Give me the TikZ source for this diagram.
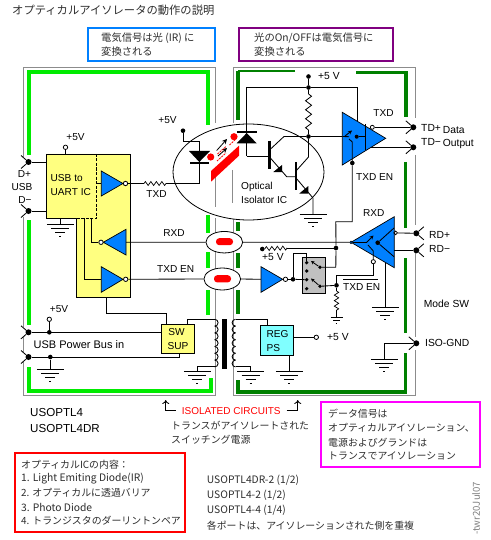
\documentclass[tikz,border=0pt]{standalone}
\usepackage{fontspec}
\setmainfont{Liberation Sans}
\newfontfamily\jp{Noto Sans CJK JP}
\usetikzlibrary{arrows.meta,decorations.pathmorphing,shapes.geometric}
\definecolor{lgreen}{RGB}{0,235,0}
\definecolor{dgreen}{RGB}{0,128,0}
\definecolor{gedge}{RGB}{140,140,140}
\definecolor{icblue}{RGB}{0,128,255}
\definecolor{icyellow}{RGB}{255,255,128}
\definecolor{regcyan}{RGB}{128,255,255}
\definecolor{swgrey}{RGB}{192,192,192}
\definecolor{jtext}{RGB}{45,45,45}
\definecolor{capblue}{RGB}{0,128,255}
\definecolor{cappurple}{RGB}{128,0,128}
\definecolor{capmag}{RGB}{255,0,255}
\tikzset{
 wire/.style={line width=0.85pt,black},
 edgeline/.style={line width=1pt,gedge},
 lg/.style={line width=3.4pt,lgreen},
 dg/.style={line width=3.4pt,dgreen},
 dgt/.style={line width=2.2pt,dgreen},
 amp/.style={draw=black,line width=0.7pt,fill=icblue},
 jdot/.style={circle,fill=black,inner sep=0pt,minimum size=4.6pt},
 term/.style={circle,fill=black,inner sep=0pt,minimum size=6pt},
 bub/.style={circle,draw=black,fill=white,line width=0.8pt,inner sep=0pt,minimum size=4.4pt},
 lab/.style={anchor=west,inner sep=0pt,font=\fontsize{10.3}{12}\selectfont},
 clab/.style={anchor=center,inner sep=0pt,font=\fontsize{10.1}{12}\selectfont},
 jlab/.style={anchor=west,inner sep=0pt,text=jtext,font=\jp\fontsize{9.9}{12}\selectfont},
 llab/.style={anchor=west,inner sep=0pt,text=jtext,font=\jp\fontsize{10.3}{12}\selectfont},
 capbox/.style={line width=2pt},
 resH/.style={line width=.7pt,decorate,decoration={zigzag,segment length=5.5pt,amplitude=2pt}},
 resV/.style={line width=.8pt,decorate,decoration={zigzag,segment length=9pt,amplitude=3pt}},
 oval/.style={ellipse,draw=black,fill=white,line width=0.8pt,inner sep=0pt},
 pill/.style={rounded corners=3.2pt,fill=red,draw=none},
 gnd/.pic={
  \draw[wire] (-13.5,0)--(13.5,0);
  \draw[wire] (-9,4.3)--(9,4.3);
  \draw[wire] (-5,8.6)--(5,8.6);
  \draw[wire] (-1,12.6)--(1,12.6);
 },
 sgnd/.pic={
  \draw[wire] (-6,0)--(6,0);
  \draw[wire] (-3.5,3.5)--(3.5,3.5);
  \draw[wire] (-.8,6.5)--(.8,6.5);
 }
}
\newcommand{\chevIn}[1]{\draw[wire] (#1) ++(-7.5,-6.5) -- (#1) -- ++(-7.5,6.5);}
\newcommand{\chevOut}[1]{\draw[wire] (#1) ++(7.5,-6.5) -- (#1) -- ++(7.5,6.5);}
\begin{document}
\begin{tikzpicture}[x=1pt,y=-1pt]
\useasboundingbox (0,0) rectangle (490,540);
\fill[white] (0,0) rectangle (490,540);
% title and captions
\node[jlab,font=\jp\fontsize{11.3}{13}\selectfont] (title) at (12,10) {オプティカルアイソレータの動作の説明};
\draw[capbox,draw=capblue] (88,28) rectangle (215,61.5);
\node[llab] (capa1) at (101,38) {電気信号は光 (IR) に};
\node[llab] (capa2) at (101,52) {変換される};
\draw[capbox,draw=cappurple] (239,28) rectangle (393,61.5);
\node[llab] (capb1) at (254,38) {光のOn/OFFは電気信号に};
\node[llab] (capb2) at (254,52) {変換される};
% grey isolation edges
\draw[edgeline] (23.5,157)--(23.5,67.5)--(215,67.5)--(215,123);
\draw[edgeline] (23.5,217)--(23.5,327) (23.5,337)--(23.5,352) (23.5,362)--(23.5,395)--(215,395)--(215,218);
\draw[edgeline] (233,123)--(233,67.5)--(415,67.5)--(415,118);
\draw[edgeline] (415,155)--(415,225) (415,253)--(415,337) (415,350)--(415,395)--(233,395)--(233,218);
% green guards
\draw[lg] (29,155)--(29,72)--(208,72)--(208,125);
\draw[lg] (29,220)--(29,325);
\draw[lg] (29,367)--(29,391)--(211,391)--(211,378);
\draw[lg] (208,215)--(208,233) (208,252)--(208,268) (208,290)--(208,315);
\draw[dgt] (295,71)--(238,71);
\draw[dg] (238,71)--(238,120);
\draw[dg] (356,72.5)--(406,72.5)--(406,117);
\draw[dg] (405.5,162)--(405.5,228) (405.5,258)--(405.5,333) (405.5,353)--(405.5,392)--(238,392)--(238,380);
\draw[dg] (238,222)--(238,231) (238,253)--(238,268) (238,290)--(238,314);
% optical isolator
\node[oval,minimum width=151pt,minimum height=96pt] (iso) at (248.5,172) {};
\draw[edgeline] (215.5,176)--(215.5,207) (232,170)--(232,203);
\node[clab,anchor=west] (isoa) at (241,187) {Optical};
\node[clab,anchor=west] (isob) at (241,200) {Isolator IC};
% ovals
\node[oval,minimum width=36.7pt,minimum height=21.5pt] (ova) at (224.3,242.2) {};
\node[oval,minimum width=36.7pt,minimum height=22pt] (ovb) at (222.3,279) {};
\fill[pill] (216,238.2) rectangle (233,245.2);
\fill[pill] (214,275.2) rectangle (231,282.4);
% yellow IC
\draw[wire,fill=icyellow] (46,154)--(130,154)--(130,297)--(76.7,297)--(76.7,218)--(46,218)--cycle;
\draw[wire,draw=icyellow] (76.7,218)--(96.5,218);
\draw[wire,dash pattern=on 3pt off 1.5pt] (96.5,154)--(96.5,218)--(76.7,218);
\node[clab,anchor=west] (ic1) at (50.5,178) {USB to};
\node[clab,anchor=west] (ic2) at (50.5,192) {UART IC};
% left terminals
\node[term] (dp) at (28.5,162) {};
\node[term] (dm) at (28.5,211) {};
\node[term] (pp) at (28.5,332.3) {};
\node[term] (pm) at (28.5,357) {};
\chevIn{dp}\chevIn{dm}\chevIn{pp}\chevIn{pm}
\draw[wire] (dp)--(46,162);
\draw[wire] (dm)--(46,211);
\node[clab] (ldp) at (24.5,174) {D+};
\node[clab] (lusb) at (22,187) {USB};
\node[clab] (ldm) at (25,200) {D−};
% IC +5V and ground
\node[bub] (icv) at (65.5,147.3) {};
\draw[wire] (icv)--(65.5,154);
\node[clab] (licv) at (75.5,137) {+5V};
\coordinate (icg) at (60.3,224);
\draw[wire] (60.3,218)--(icg);
\pic at (icg) {gnd};
% buffer 1
\coordinate (b1in) at (101.3,183.5);
\draw[amp] (101.3,171)--(123,183.5)--(101.3,196)--cycle;
\draw[wire] (96.5,183.5)--(b1in);
\node[bub] (b1o) at (125.5,183.5) {};
\coordinate (r1a) at (144,183.5);
\coordinate (r1b) at (167,183.5);
\coordinate (d1low) at (199.3,183.5);
\draw[wire] (b1o)--(r1a);
\draw[resH] (r1a)--(r1b);
\draw[wire] (r1b)--(d1low);
\node[clab] (ltxd) at (156.5,194) {TXD};
% LED
\node[jdot] (ledv) at (183,130.7) {};
\node[clab] (lledv) at (167.5,120) {+5V};
\coordinate (d1top) at (199.3,141.3);
\draw[wire] (ledv)--(183,141.3)--(d1top)--(d1low);
\fill[black] (189,151)--(210,151)--(199.3,162)--cycle;
\draw[line width=2pt] (190,162.8)--(209,162.8);
% light emitter / barrier
\fill[red] (211,171)--(239,145.7)--(239,155.7)--(211,181.7)--cycle;
\fill[red] (210.7,157) circle (3.6pt);
\fill[red] (234,136.7) circle (3.6pt);
\draw[line width=.8pt,-{Stealth[length=5pt,width=5pt]}] (216.7,150.5)--(227,139);
\draw[line width=.8pt,-{Stealth[length=5pt,width=5pt]}] (218,156)--(227,148);
\draw[red,line width=.8pt,dash pattern=on 2pt off 1pt] (217.5,154)--(226,146.5) (217,161)--(226,153) (229.5,145)--(236,139);
% photo diode
\coordinate (pdtop) at (246.5,87.5);
\coordinate (pdlow) at (246.5,156);
\fill[black] (236.7,143.3)--(256.7,143.3)--(246.7,133)--cycle;
\draw[line width=2pt] (237,132.3)--(257,132.3);
\draw[wire] (pdtop)--(pdlow);
% +5V rail
\node[jdot] (v5t) at (308.5,76.5) {};
\node[jdot] (v5j) at (308.5,87.5) {};
\node[lab] (lv5) at (318,76) {+5 V};
\coordinate (railr) at (357,87.5);
\coordinate (txpow) at (357,121);
\draw[wire] (v5t)--(v5j);
\draw[wire] (pdtop)--(v5j)--(railr)--(txpow);
\node[jdot] (cj) at (308.5,136.5) {};
\draw[wire] (v5j)--(308.5,94);
\draw[resV] (308.5,94)--(308.5,130);
\draw[wire] (308.5,130)--(cj);
% transistors
\coordinate (q1b) at (269.5,156);
\coordinate (q1c) at (284,136.5);
\coordinate (txin) at (342.3,136.5);
\draw[wire] (pdlow)--(q1b);
\draw[line width=2.6pt] (269.5,140.7)--(269.5,169);
\draw[wire] (269.5,150)--(q1c)--(cj)--(txin);
\draw[wire] (269.5,157)--(286.7,176.7)--(296,176.7);
\fill[black] (273.3,172)--(282,172)--(282,165)--cycle;
\draw[line width=2.6pt] (296,162)--(296,190);
\draw[wire] (296,171)--(308.5,157)--(cj);
\coordinate (isog) at (313,214);
\draw[wire] (296,178)--(313,198)--(isog);
\fill[black] (299.3,193.5)--(308.3,193.5)--(308.3,186)--cycle;
\pic at (isog) {gnd};
% TX amplifier
\draw[amp] (342.3,112.3)--(385.7,138.3)--(342.3,165)--cycle;
\draw[wire] (txin)--(349,136.7);
\draw[wire,-{Stealth[length=4pt,width=4pt]}] (345,136)--(352,130.5);
\draw[wire] (349,139)--(352.3,142)--(352.3,163);
\node[jdot] (txen) at (352.3,163) {};
\node[jdot,minimum size=4pt] (txd2) at (356.7,136.7) {};
\draw[wire] (365.3,124)--(365.3,150.5);
\draw[wire] (txd2)--(365.3,136.7);
\node[bub,minimum size=4pt] (txbub) at (372.3,127.3) {};
\node[term] (tdp) at (413.3,127.3) {};
\node[term] (tdm) at (413.3,147.3) {};
\draw[wire] (txbub)--(tdp);
\draw[wire] (371,147.3)--(tdm);
\chevIn{tdp}\chevIn{tdm}
\node[clab] (ltxr) at (383.5,113) {TXD};
\node[clab,anchor=west] (ltxe) at (356,177) {TXD EN};
\node[lab] (ltp) at (421,128) {TD+};
\node[lab] (ltm) at (421,142) {TD−};
\node[lab] (lda) at (442.7,130) {Data};
\node[lab] (lou) at (442.7,144) {Output};
% RX amplifier
\draw[amp] (351,242.3)--(394.3,216.7)--(394.3,267.7)--cycle;
\node[circle,draw=black,fill=icblue,inner sep=0pt,minimum size=2.6pt,line width=.6pt] (rxin) at (351,242.3) {};
\node[jdot] (rxd2) at (377.7,242.7) {};
\draw[wire] (394,228)--(rxd2)--(394,256.7);
\draw[wire] (rxin)--(366.7,242.3);
\draw[wire,-{Stealth[length=4pt,width=4pt]}] (366.7,242.3)--(373.5,235.5);
\node[bub,minimum size=4.2pt] (rxen) at (373.3,261.7) {};
\draw[wire] (368,245)--(373.3,251)--(rxen);
\node[bub,minimum size=3.6pt] (rxbub) at (395.7,232.9) {};
\node[term] (rdp) at (416.3,233.3) {};
\node[term] (rdm) at (416.3,250.3) {};
\draw[wire] (rxbub)--(rdp);
\draw[wire] (394.3,250.3)--(rdm);
\chevOut{rdp}\chevOut{rdm}
\node[lab] (lrp) at (429,235) {RD+};
\node[lab] (lrm) at (429,249) {RD−};
\node[clab] (lrx) at (373.7,212.7) {RXD};
\coordinate (rxg) at (385.3,307.3);
\draw[wire] (385.3,262.5)--(rxg);
\pic at (rxg) {gnd};
\node[lab] (lmode) at (423.7,304) {Mode SW};
% ISO-GND
\node[term] (ig) at (416.3,343.3) {};
\chevIn{ig}
\coordinate (igg) at (384.3,359);
\draw[wire] (ig)--(384.3,343.3)--(igg);
\pic at (igg) {gnd};
\node[lab] (lig) at (425,343) {ISO-GND};
% RXD line
\draw[amp] (103.3,242.3)--(126,229.3)--(126,255)--cycle;
\node[bub] (rxbb) at (101,242.3) {};
\draw[wire] (rxbb)--(91.7,242.3)--(91.7,218);
\draw[wire] (126,242.3)--(ova.west);
\draw[wire] (ova.east)--(rxin);
\node[clab] (lrxd) at (174,233) {RXD};
% TXEN line
\draw[amp] (101.3,266.7)--(123,279.3)--(101.3,292.3)--cycle;
\node[bub] (tebub) at (125.7,279.3) {};
\draw[wire] (101.3,279.3)--(84.3,279.3)--(84.3,218);
\draw[wire] (tebub)--(ovb.west);
\node[clab] (ltee) at (175.7,269) {TXD EN};
% right driver
\coordinate (drin) at (261,279.3);
\draw[wire] (ovb.east)--(drin);
\draw[amp] (261,266.7)--(282.7,279.3)--(261,292.3)--cycle;
\node[bub] (drbub) at (285.5,279.3) {};
\node[jdot] (drj) at (293,279.3) {};
\draw[wire] (drbub)--(drj);
% pullup
\node[jdot] (pu) at (262.3,249) {};
\coordinate (pua) at (265,248.6);
\coordinate (pub) at (287,248);
\node[jdot] (vj) at (336,248) {};
\draw[wire] (pu)--(pua);
\draw[resH] (pua)--(pub);
\draw[wire] (pub)--(vj);
\node[lab] (lpu) at (262,257.5) {+5 V};
% mode switch
\draw[line width=.7pt,fill=swgrey] (302.3,257.3) rectangle (325.7,293.3);
\node[jdot,minimum size=3.6pt] (sa) at (306.7,262.7) {};
\node[jdot,minimum size=3.6pt] (sb) at (306.7,271) {};
\node[jdot,minimum size=3.6pt] (sc) at (306.7,279.7) {};
\node[jdot,minimum size=3.6pt] (sd) at (306.7,288.7) {};
\node[jdot,minimum size=3.8pt] (so1) at (320,267.3) {};
\node[jdot,minimum size=3.8pt] (so2) at (320,286.3) {};
\draw[wire,-{Stealth[length=3.5pt,width=3.5pt]}] (so1)--(311,261);
\draw[wire,-{Stealth[length=3.5pt,width=3.5pt]}] (so2)--(311,278.5);
\draw[wire] (drj)--(sc);
\draw[wire] (drj)--(293,253.3)--(306.7,253.3)--(sa);
\draw[wire] (so1)--(335.8,267.3)--(vj);
\draw[wire] (vj)--(335.8,221.7)--(352.3,221.7)--(txen);
\node[jdot] (enj) at (336.5,285.3) {};
\draw[wire] (so2)--(enj);
\draw[wire] (enj)--(336.5,275)--(373.3,275)--(rxen);
\coordinate (rea) at (336.5,291);
\coordinate (reb) at (336.5,312);
\coordinate (rsg) at (336.5,317);
\draw[wire] (enj)--(rea);
\draw[line width=.7pt,decorate,decoration={zigzag,segment length=5.5pt,amplitude=2.2pt}] (rea)--(reb);
\draw[wire] (reb)--(rsg);
\pic at (rsg) {sgnd};
\draw[line width=1.5pt] (343,279.6)--(377.7,279.6);
\node[clab,anchor=west] (lten) at (343,287.5) {TXD EN};
% USB power
\node[jdot] (vj2) at (49.3,332.3) {};
\node[bub] (vb) at (49.3,319.3) {};
\draw[wire] (vb)--(vj2);
\node[clab] (lvb) at (59,309) {+5V};
\node[jdot] (gj) at (50.3,357) {};
\coordinate (gjg) at (50.3,369.3);
\draw[wire] (gj)--(gjg);
\pic at (gjg) {gnd};
\node[lab,font=\fontsize{11}{12}\selectfont] (lpw) at (33.5,345) {USB Power Bus in};
% SW SUP
\node[draw=black,line width=.85pt,fill=icyellow,minimum width=33pt,minimum height=29pt,inner sep=0pt] (sw) at (177.8,338.8) {};
\node[clab] (sw1) at (176.5,331.7) {SW};
\node[clab] (sw2) at (178,346) {SUP};
\draw[wire] (pp)--(sw.west |- pp);
\draw[wire] (pm)--(179.3,357)--(179.3,353.3);
\draw[wire] (106.7,297)--(106.7,313.3)--(166.7,313.3)--(166.7,324.3);
% transformer
\fill[black] (222.3,319) rectangle (226.7,369.3);
\foreach \k in {0,...,6}{
 \draw[wire] (214.7,{319.3+6.8*\k}) arc (90:-90:3.4pt);
 \draw[wire] (235.5,{319.3+6.8*\k}) arc (90:270:3.4pt);
}
\draw[wire] (187.3,324.3)--(187.3,319.3)--(214.7,319.3);
\coordinate (tlg) at (197.3,371.3);
\draw[wire] (214.7,366.9)--(197.3,366.9)--(tlg);
\pic at (tlg) {gnd};
\coordinate (trg) at (250.5,371.3);
\draw[wire] (235.5,366.9)--(250.5,366.9)--(trg);
\pic at (trg) {gnd};
% REG
\node[draw=black,line width=.85pt,fill=regcyan,minimum width=33.3pt,minimum height=30pt,inner sep=0pt] (reg) at (276.7,340.3) {};
\node[clab,anchor=west] (reg1) at (266.5,334) {REG};
\node[clab,anchor=west] (reg2) at (266.5,348) {PS};
\draw[wire] (235.5,319.3)--(267.3,319.3)--(267.3,325.3);
\node[bub] (regv) at (316.3,337.3) {};
\draw[wire] (293.3,337.3)--(regv);
\node[lab] (lregv) at (327,337.3) {+5 V};
\coordinate (regg) at (289.3,371.3);
\draw[wire] (289.3,355.3)--(regg);
\pic at (regg) {gnd};
% isolated circuits
\coordinate (ia) at (175.7,410);
\coordinate (ib) at (286.7,410);
\draw[wire,-{To[length=4pt,width=7pt]}] (ia)--(165.7,410)--(165.7,400);
\draw[wire,-{To[length=4pt,width=7pt]}] (ib)--(297.7,410)--(297.7,400);
\node[lab,text=red,font=\fontsize{10}{12}\selectfont] (lic) at (181.7,411) {ISOLATED CIRCUITS};
\node[jlab] (t1) at (171,425.7) {トランスがアイソレートされた};
\node[jlab] (t2) at (171,440) {スイッチング電源};
\node[lab,font=\fontsize{11.6}{13}\selectfont] (m1) at (30,413) {USOPTL4};
\node[lab,font=\fontsize{11.6}{13}\selectfont] (m2) at (30,429) {USOPTL4DR};
% magenta box
\draw[capbox,draw=capmag] (320.7,401.7) rectangle (480,466.7);
\node[jlab] (g1) at (328,414) {データ信号は};
\node[jlab] (g2) at (328,428) {オプティカルアイソレーション、};
\node[jlab] (g3) at (328,442.7) {電源およびグランドは};
\node[jlab] (g4) at (328,456.3) {トランスでアイソレーション};
% red box
\draw[capbox,draw=red] (15,452.7) rectangle (185,532.3);
\node[jlab] (e1) at (21,465) {オプティカルICの内容：};
\node[llab] (e2) at (21,479) {1. Light Emiting Diode(IR)};
\node[jlab] (e3) at (21,493) {2. オプティカルに透過バリア};
\node[llab] (e4) at (21,507) {3. Photo Diode};
\node[jlab] (e5) at (21,521) {4. トランジスタのダーリントンペア};
% list
\node[llab] (l1) at (206.7,480) {USOPTL4DR-2 (1/2)};
\node[llab] (l2) at (206.7,495) {USOPTL4-2 (1/2)};
\node[llab] (l3) at (206.7,510) {USOPTL4-4 (1/4)};
\node[jlab] (l4) at (206.7,526) {各ポートは、アイソレーションされた側を重複};
\node[anchor=west,inner sep=0pt,rotate=90,text=gray,font=\jp\fontsize{9.6}{11}\selectfont] (sig) at (476,535) {-twr20Jul07};
\end{tikzpicture}
\end{document}
